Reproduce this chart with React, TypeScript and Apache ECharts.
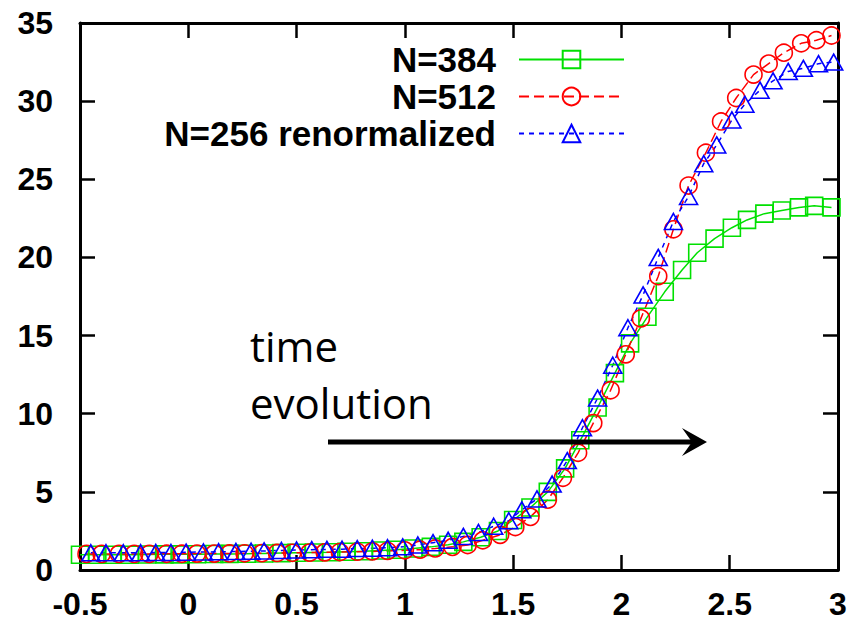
import React, { useEffect, useRef } from "react";
import * as echarts from "echarts";

// ---- data ----
const X_TICKS = [-0.5, 0, 0.5, 1, 1.5, 2, 2.5, 3];
const Y_TICKS = [0, 5, 10, 15, 20, 25, 30, 35];

const SERIES_NAMES = ["N=384", "N=512", "N=256 renormalized"];

const X_N384 = [
  -0.5, -0.42, -0.35, -0.27, -0.19, -0.11, -0.04, 0.04, 0.12, 0.19, 0.27, 0.35,
  0.43, 0.5, 0.58, 0.66, 0.73, 0.81, 0.89, 0.96, 1.04, 1.12, 1.2, 1.27, 1.35,
  1.43, 1.5, 1.58, 1.66, 1.74, 1.81, 1.89, 1.97, 2.04, 2.12, 2.2, 2.28, 2.35,
  2.43, 2.51, 2.58, 2.66, 2.74, 2.82, 2.89, 2.97,
];
const Y_N384 = [
  0.98, 0.98, 0.98, 0.98, 0.99, 1.0, 1.0, 1.01, 1.02, 1.03, 1.04, 1.06, 1.08,
  1.1, 1.12, 1.14, 1.17, 1.2, 1.25, 1.3, 1.38, 1.48, 1.62, 1.8, 2.1, 2.5, 3.2,
  4.0, 5.0, 6.5, 8.3, 10.4, 12.6, 14.5, 16.2, 17.8, 19.2, 20.3, 21.2, 21.9,
  22.4, 22.8, 23.0, 23.2, 23.3, 23.2,
];

const X_N512 = [
  -0.47, -0.4, -0.32, -0.25, -0.18, -0.1, -0.03, 0.04, 0.12, 0.19, 0.26, 0.34,
  0.41, 0.48, 0.56, 0.63, 0.7, 0.78, 0.85, 0.92, 1.0, 1.07, 1.14, 1.22, 1.29,
  1.36, 1.44, 1.51, 1.58, 1.66, 1.73, 1.8, 1.87, 1.95, 2.02, 2.09, 2.17, 2.24,
  2.31, 2.39, 2.46, 2.53, 2.61, 2.68, 2.75, 2.83, 2.9, 2.97,
];
const Y_N512 = [
  1.03, 1.03, 1.03, 1.03, 1.03, 1.04, 1.04, 1.05, 1.05, 1.06, 1.07, 1.08, 1.09,
  1.1, 1.11, 1.13, 1.15, 1.17, 1.19, 1.22, 1.26, 1.3, 1.38, 1.48, 1.6, 1.9,
  2.25, 2.75, 3.4, 4.5, 5.9, 7.5, 9.4, 11.5, 13.8, 16.1, 18.8, 21.8, 24.6,
  26.7, 28.7, 30.2, 31.7, 32.4, 33.1, 33.7, 33.9, 34.2,
];

const X_N256R = [
  -0.45, -0.38, -0.3, -0.22, -0.15, -0.08, -0.01, 0.07, 0.14, 0.22, 0.29, 0.35,
  0.43, 0.5, 0.57, 0.64, 0.71, 0.78, 0.85, 0.92, 0.99, 1.06, 1.13, 1.2, 1.27,
  1.34, 1.41, 1.48, 1.54, 1.61, 1.68, 1.75, 1.82, 1.89, 1.96, 2.03, 2.1, 2.17,
  2.24, 2.31, 2.38, 2.44, 2.51, 2.57, 2.64, 2.7, 2.77, 2.84, 2.91, 2.98,
];
const Y_N256R = [
  1.1, 1.1, 1.1, 1.1, 1.12, 1.12, 1.14, 1.15, 1.17, 1.18, 1.2, 1.22, 1.25, 1.28,
  1.3, 1.32, 1.33, 1.37, 1.39, 1.42, 1.48, 1.6, 1.75, 1.9, 2.15, 2.4, 2.8, 3.15,
  3.85, 4.55, 5.5, 7.0, 9.1, 11.0, 13.1, 15.5, 17.6, 20.0, 22.3, 23.9, 26.0,
  27.2, 28.8, 29.8, 30.7, 31.3, 31.9, 32.1, 32.4, 32.5,
];

const ANNOTATION_LINES = ["time", "evolution"];

const GREEN = "#00e000";
const RED = "#ff0000";
const BLUE = "#0000ff";
const FONT = "'Liberation Sans', Arial, sans-serif";

function pairs(xs: number[], ys: number[]) {
  return xs.map((x, i) => [x, ys[i]]);
}

export default function App() {
  const ref = useRef<HTMLDivElement>(null);

  useEffect(() => {
    if (!ref.current) return;
    const chart = echarts.init(ref.current, null, { renderer: "svg" });

    const axisLine = { show: true, onZero: false, lineStyle: { color: "#000", width: 3 } };
    const axisTick = { show: true, inside: true, length: 15, lineStyle: { color: "#000", width: 2.5 } };
    const labelStyle = { fontSize: 32, fontWeight: "bold" as const, fontFamily: FONT, color: "#000" };

    const xBase = {
      type: "value" as const,
      min: X_TICKS[0],
      max: X_TICKS[X_TICKS.length - 1],
      interval: 0.5,
      axisLine,
      axisTick,
      splitLine: { show: false },
    };
    const yBase = {
      type: "value" as const,
      min: Y_TICKS[0],
      max: Y_TICKS[Y_TICKS.length - 1],
      interval: 5,
      axisLine,
      axisTick,
      splitLine: { show: false },
    };

    const mk = (
      name: string,
      data: number[][],
      color: string,
      symbol: string,
      symbolSize: number | number[],
      dash: any
    ) => ({
      name,
      type: "line",
      data,
      xAxisIndex: 0,
      yAxisIndex: 0,
      symbol,
      symbolSize,
      showAllSymbol: true,
      lineStyle: { color, width: 1.5, type: dash },
      itemStyle: { color: "rgba(0,0,0,0)", borderColor: color, borderWidth: 1.6 },
      emphasis: { disabled: true },
    });

    const annotationText = (text: string, y: number) => ({
      type: "text",
      z: 100,
      x: 250,
      y,
      style: {
        text,
        fontSize: 42,
        fontFamily: "'Open Sans', sans-serif",
        fill: "#000",
        verticalAlign: "middle",
      },
    });

    chart.setOption({
      animation: false,
      backgroundColor: "#ffffff",
      grid: { left: 80, right: 19, top: 23, bottom: 55 },
      xAxis: [
        { ...xBase, position: "bottom", axisLabel: { ...labelStyle, margin: 18 } },
        { ...xBase, position: "top", axisLabel: { show: false } },
      ],
      yAxis: [
        { ...yBase, position: "left", axisLabel: { ...labelStyle, margin: 27 } },
        { ...yBase, position: "right", axisLabel: { show: false } },
      ],
      legend: {
        data: SERIES_NAMES,
        orient: "vertical",
        right: 232,
        top: 42,
        align: "right",
        padding: 0,
        itemGap: 2,
        itemWidth: 105,
        itemHeight: 22,
        selectedMode: false,
        textStyle: {
          fontSize: 35,
          fontWeight: "bold",
          fontFamily: FONT,
          color: "#000",
          padding: [0, 18, 0, 0],
        },
      },
      series: [
        mk(SERIES_NAMES[0], pairs(X_N384, Y_N384), GREEN, "rect", 17, "solid"),
        mk(SERIES_NAMES[1], pairs(X_N512, Y_N512), RED, "circle", 17, [10, 5]),
        mk(SERIES_NAMES[2], pairs(X_N256R, Y_N256R), BLUE, "triangle", [18, 16], [5, 5]),
      ],
      graphic: [
        {
          type: "line",
          z: 100,
          shape: { x1: 328, y1: 442, x2: 696, y2: 442 },
          style: { stroke: "#000", lineWidth: 5 },
        },
        {
          type: "polygon",
          z: 100,
          shape: { points: [[707, 442], [682, 428], [692, 442], [682, 456]] },
          style: { fill: "#000" },
        },
        annotationText(ANNOTATION_LINES[0], 345),
        annotationText(ANNOTATION_LINES[1], 402),
      ],
    });

    return () => chart.dispose();
  }, []);

  return (
    <div
      ref={ref}
      style={{ position: "absolute", left: 0, top: 0, width: 857, height: 625, background: "#fff" }}
    />
  );
}
